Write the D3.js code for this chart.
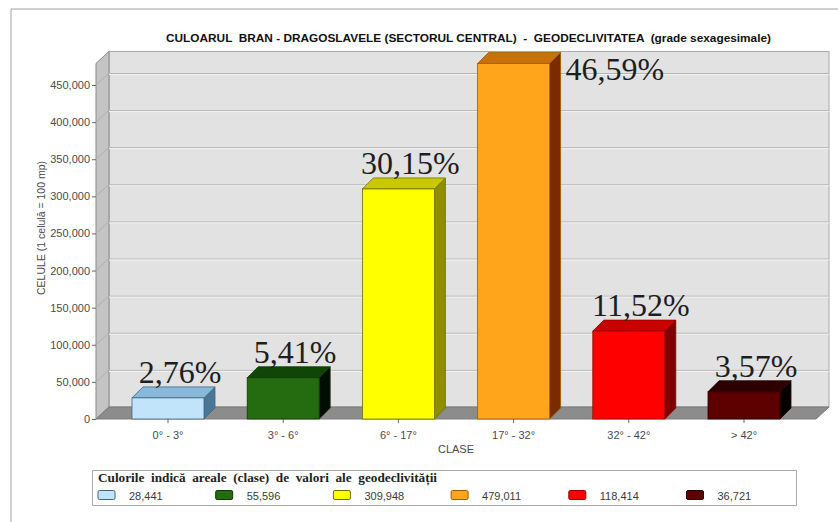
<!DOCTYPE html>
<html>
<head>
<meta charset="utf-8">
<script src="https://cdn.jsdelivr.net/npm/d3@7"></script>
<style>
  html, body { margin: 0; padding: 0; background: #ffffff; }
  svg { display: block; }
</style>
</head>
<body>
<script>
// ---- data ----
const categories = ["0° - 3°", "3° - 6°", "6° - 17°", "17° - 32°", "32° - 42°", "> 42°"];
const values = [28441, 55596, 309948, 479011, 118414, 36721];
const percentLabels = ["2,76%", "5,41%", "30,15%", "46,59%", "11,52%", "3,57%"];
const legendLabels = ["28,441", "55,596", "309,948", "479,011", "118,414", "36,721"];
const yTicks = [0, 50000, 100000, 150000, 200000, 250000, 300000, 350000, 400000, 450000];
const frontColors = ["#c2e4fa", "#256b10", "#ffff00", "#ffa51c", "#ff0000", "#5c0000"];
const topColors   = ["#8ab8d8", "#0f4606", "#c9c900", "#c8700c", "#c80000", "#2c0000"];
const sideColors  = ["#4b7796", "#020d01", "#8e8e00", "#7a2c00", "#7e0000", "#060000"];
const strokeColors= ["#3e6684", "#0d3a05", "#6e6e00", "#a45a00", "#9a0000", "#2a0000"];
const titleText = "CULOARUL  BRAN - DRAGOSLAVELE (SECTORUL CENTRAL)  -  GEODECLIVITATEA  (grade sexagesimale)";
const yTitle = "CELULE (1 celulă = 100 mp)";
const xTitle = "CLASE";
const legendTitle = "Culorile  indică  areale  (clase)  de  valori  ale  geodeclivității";

// ---- layout ----
const W = 838, H = 522;
const svg = d3.select("body").append("svg").attr("width", W).attr("height", H);

const x = d3.scaleBand().domain(categories).range([96, 816]).paddingInner(0.375).paddingOuter(0.3125);
const y = d3.scaleLinear().domain([0, 450000]).range([419, 85]);
const wallDx = 13, wallDy = 12;   // depth of walls
const barD = 11;                  // depth of bars
const y0 = y(0);
const plotTopFront = y(d3.max(values)) ;
const wallTop = plotTopFront - wallDy;

// outer frame
svg.append("path").attr("d", `M11,${H} L11,9 L${W},9`).attr("fill", "none").attr("stroke", "#a0a0a0").attr("stroke-width", 1);

// title
svg.append("text").attr("x", 166).attr("y", 42).attr("textLength", 605).attr("lengthAdjust", "spacingAndGlyphs")
  .style("font-family", "'Liberation Sans', Arial, sans-serif").style("font-weight", "bold").style("font-size", "10.5px")
  .attr("fill", "#111").attr("xml:space", "preserve").text(titleText);

// back wall
const xl = 96, xr = 816;
svg.append("rect").attr("x", xl + wallDx).attr("y", wallTop).attr("width", xr - xl).attr("height", y0 - wallDy - wallTop)
  .attr("fill", "#e2e2e2").attr("stroke", "#a8a8a8");
// left side wall
svg.append("polygon").attr("points", [[xl, y0], [xl, plotTopFront], [xl + wallDx, wallTop], [xl + wallDx, y0 - wallDy]].join(" "))
  .attr("fill", "#c4c4c4").attr("stroke", "#8a8a8a");
// gridlines on back wall and side wall
const grid = svg.append("g");
yTicks.filter(t => t > 0).forEach(t => {
  grid.append("line").attr("x1", xl + wallDx).attr("x2", xr + wallDx).attr("y1", y(t) - wallDy + 0.5).attr("y2", y(t) - wallDy + 0.5)
    .attr("stroke", "#b4b4b4");
  grid.append("line").attr("x1", xl + wallDx).attr("x2", xr + wallDx).attr("y1", y(t) - wallDy + 1.5).attr("y2", y(t) - wallDy + 1.5)
    .attr("stroke", "#f2f2f2");
  grid.append("line").attr("x1", xl).attr("x2", xl + wallDx).attr("y1", y(t)).attr("y2", y(t) - wallDy)
    .attr("stroke", "#b0b0b0");
});
// floor
svg.append("polygon").attr("points", [[xl, y0], [xr, y0], [xr + wallDx, y0 - wallDy], [xl + wallDx, y0 - wallDy]].join(" "))
  .attr("fill", "#8c8c8c").attr("stroke", "#7a7a7a");

// y axis
const yAxis = d3.axisLeft(y).tickValues(yTicks).tickFormat(d3.format(",")).tickSize(4).tickPadding(2);
const gy = svg.append("g").attr("transform", `translate(${xl},0)`).call(yAxis);
gy.select(".domain").remove();
gy.selectAll("line").attr("stroke", "#666");
gy.selectAll("text").style("font-family", "'Liberation Sans', Arial, sans-serif").style("font-size", "11px").attr("fill", "#4a4a4a");

// x axis
const xAxis = d3.axisBottom(x).tickSize(4).tickPadding(8);
const gx = svg.append("g").attr("transform", `translate(0,${y0})`).call(xAxis);
gx.select(".domain").remove();
gx.selectAll("line").attr("stroke", "#666");
gx.selectAll("text").style("font-family", "'Liberation Sans', Arial, sans-serif").style("font-size", "11px").attr("fill", "#4a4a4a");

// axis titles
svg.append("text").attr("x", (xl + xr) / 2).attr("y", 453).attr("text-anchor", "middle")
  .style("font-family", "'Liberation Sans', Arial, sans-serif").style("font-size", "11px").attr("fill", "#4a4a4a").text(xTitle);
svg.append("text").attr("transform", `translate(45,228) rotate(-90)`).attr("text-anchor", "middle")
  .style("font-family", "'Liberation Sans', Arial, sans-serif").style("font-size", "10.5px").attr("fill", "#4a4a4a").text(yTitle);

// bars
const bars = svg.append("g");
categories.forEach((c, i) => {
  const bx = x(c), bw = x.bandwidth(), by = y(values[i]);
  const g = bars.append("g");
  g.append("polygon").attr("points", [[bx + bw, by], [bx + bw + barD, by - barD], [bx + bw + barD, y0 - barD], [bx + bw, y0]].join(" "))
    .attr("fill", sideColors[i]).attr("stroke", strokeColors[i]).attr("stroke-width", 0.8);
  g.append("polygon").attr("points", [[bx, by], [bx + barD, by - barD], [bx + bw + barD, by - barD], [bx + bw, by]].join(" "))
    .attr("fill", topColors[i]).attr("stroke", strokeColors[i]).attr("stroke-width", 0.8);
  g.append("rect").attr("x", bx).attr("y", by).attr("width", bw).attr("height", y0 - by)
    .attr("fill", frontColors[i]).attr("stroke", strokeColors[i]).attr("stroke-width", 0.8);
});

// percent labels
const labels = svg.append("g");
categories.forEach((c, i) => {
  const bx = x(c), bw = x.bandwidth(), by = y(values[i]);
  let tx = bx + bw / 2 + 12, ty = by - barD - 4, anchor = "middle";
  if (ty - 24 < wallTop) { tx = bx + bw + barD + 5; ty = by + 17; anchor = "start"; }
  labels.append("text").attr("x", tx).attr("y", ty).attr("text-anchor", anchor)
    .style("font-family", "'Liberation Serif', 'Times New Roman', serif").style("font-size", "32px")
    .attr("fill", "#1e1e1e").text(percentLabels[i]);
});

// legend
const lg = svg.append("g");
lg.append("rect").attr("x", 92.5).attr("y", 470.5).attr("width", 704).attr("height", 35).attr("fill", "#fff").attr("stroke", "#a8a8a8");
lg.append("text").attr("x", 98).attr("y", 482).attr("textLength", 339).attr("lengthAdjust", "spacingAndGlyphs")
  .attr("xml:space", "preserve")
  .style("font-family", "'Liberation Serif', 'Times New Roman', serif").style("font-weight", "bold").style("font-size", "11.5px")
  .attr("fill", "#222").text(legendTitle);
legendLabels.forEach((l, i) => {
  const lx = 98 + i * 117.7;
  lg.append("rect").attr("x", lx).attr("y", 490.5).attr("width", 17).attr("height", 9).attr("rx", 1.5)
    .attr("fill", frontColors[i]).attr("stroke", strokeColors[i]);
  lg.append("text").attr("x", lx + 31).attr("y", 500)
    .style("font-family", "'Liberation Sans', Arial, sans-serif").style("font-size", "11px").attr("fill", "#3a3a3a").text(l);
});
</script>
</body>
</html>
